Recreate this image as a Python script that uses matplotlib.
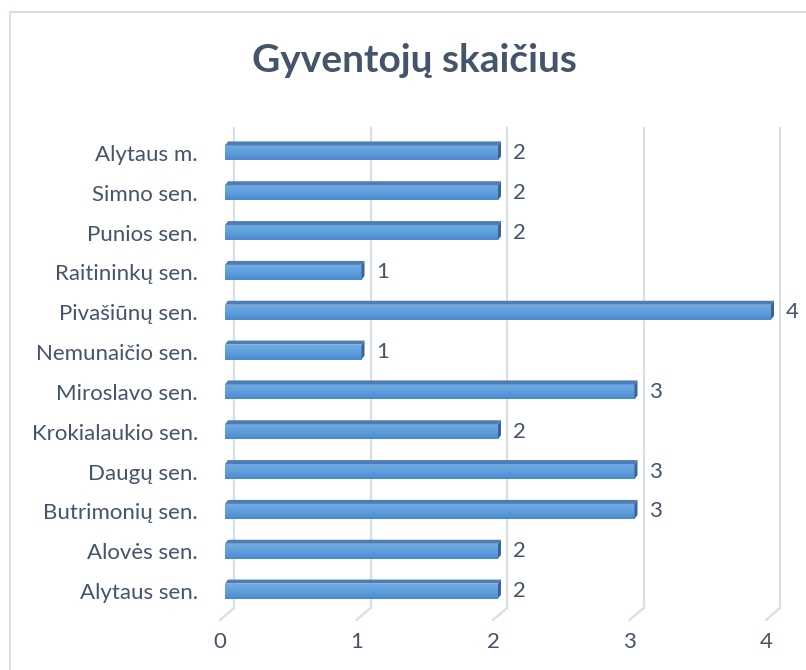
import matplotlib
matplotlib.use("Agg")
import matplotlib.pyplot as plt
import numpy as np
from matplotlib.patches import Polygon
from matplotlib.lines import Line2D
from matplotlib.colors import LinearSegmentedColormap

categories = ["Alytaus m.", "Simno sen.", "Punios sen.", "Raitininkų sen.", "Pivašiūnų sen.",
              "Nemunaičio sen.", "Miroslavo sen.", "Krokialaukio sen.", "Daugų sen.",
              "Butrimonių sen.", "Alovės sen.", "Alytaus sen."]
values = [2, 2, 2, 1, 4, 1, 3, 2, 3, 3, 2, 2]
x_ticks = [0, 1, 2, 3, 4]
title = "Gyventojų skaičius"

W, H = 806, 670
DPI = 100
fig = plt.figure(figsize=(W / DPI, H / DPI), dpi=DPI)
fig.patch.set_facecolor("white")

# plot area in pixels
left_px, right_px = 220, 766
top_px, bot_px = 133, 611
ax = fig.add_axes([left_px / W, 1 - bot_px / H, (right_px - left_px) / W, (bot_px - top_px) / H])
n = len(categories)
for s in ax.spines.values():
    s.set_visible(False)

ux = (right_px - left_px) / 4.0          # px per unit
uy = (bot_px - top_px) / n               # px per category
depth_dx = 14 / ux
depth_dy = 12 / uy

text_color = "#44546A"
grid_color = "#D9DDE4"
FS = 16

# 3D-like gridlines: back wall vertical + floor diagonal
for t in x_ticks:
    xb = t + depth_dx
    ax.add_line(Line2D([xb, xb], [-0.5 - 5 / uy, n - 0.5 - 3 / uy], color=grid_color, lw=1.6,
                       clip_on=False, zorder=1))
    ax.add_line(Line2D([xb, t], [n - 0.5 - 3 / uy, n - 0.5 - 3 / uy + depth_dy], color=grid_color,
                       lw=1.6, clip_on=False, zorder=1))

# bars
h = 15 / uy
x0 = 5 / ux
tdx = 3 / ux
tdy = 4 / uy
grad = np.linspace(0, 1, 64).reshape(-1, 1)
cmap = LinearSegmentedColormap.from_list("bar", ["#70ABE4", "#5F9EDC", "#4A89CD"])
for i, v in enumerate(values):
    c = i
    ytop = c - h / 2
    ybot = c + h / 2
    im = ax.imshow(grad, extent=(x0, x0 + v, ybot, ytop), aspect="auto", cmap=cmap,
                   origin="upper", zorder=3, interpolation="bilinear")
    im.set_clip_on(False)
    ax.add_patch(Polygon([(x0, ytop), (x0 + v, ytop), (x0 + v + tdx, ytop - tdy), (x0 + tdx, ytop - tdy)],
                         closed=True, facecolor="#4D7DB2", edgecolor="none", zorder=4, clip_on=False))
    ax.add_patch(Polygon([(x0 + v, ytop), (x0 + v + tdx, ytop - tdy), (x0 + v + tdx, ybot - tdy), (x0 + v, ybot)],
                         closed=True, facecolor="#3B6596", edgecolor="none", zorder=4, clip_on=False))
    ax.text(x0 + v + tdx + 12 / ux, c, str(v), ha="left", va="center",
            fontsize=FS, color=text_color, family="Lato")

ax.set_xlim(0, 4)
ax.set_ylim(n - 0.5, -0.5)

ax.set_yticks(range(n))
ax.set_yticklabels(categories, fontsize=FS, color=text_color, family="Lato")
ax.set_xticks(x_ticks)
ax.set_xticklabels([str(t) for t in x_ticks], fontsize=FS, color=text_color, family="Lato")
ax.tick_params(axis="y", length=0, pad=16)
ax.tick_params(axis="x", length=0, pad=15)

fig.text(414 / W, 1 - 60 / H, title, ha="center", va="center", fontsize=28, fontweight="bold",
         color=text_color, family="Lato")

# chart border (top and left visible)
fig.add_artist(Line2D([10 / W, 1], [1 - 12 / H, 1 - 12 / H], transform=fig.transFigure,
                      color="#D9DEE6", lw=1.5))
fig.add_artist(Line2D([10 / W, 10 / W], [1 - 12 / H, 0], transform=fig.transFigure,
                      color="#D9DEE6", lw=1.5))

fig.savefig("out.png", dpi=DPI)
